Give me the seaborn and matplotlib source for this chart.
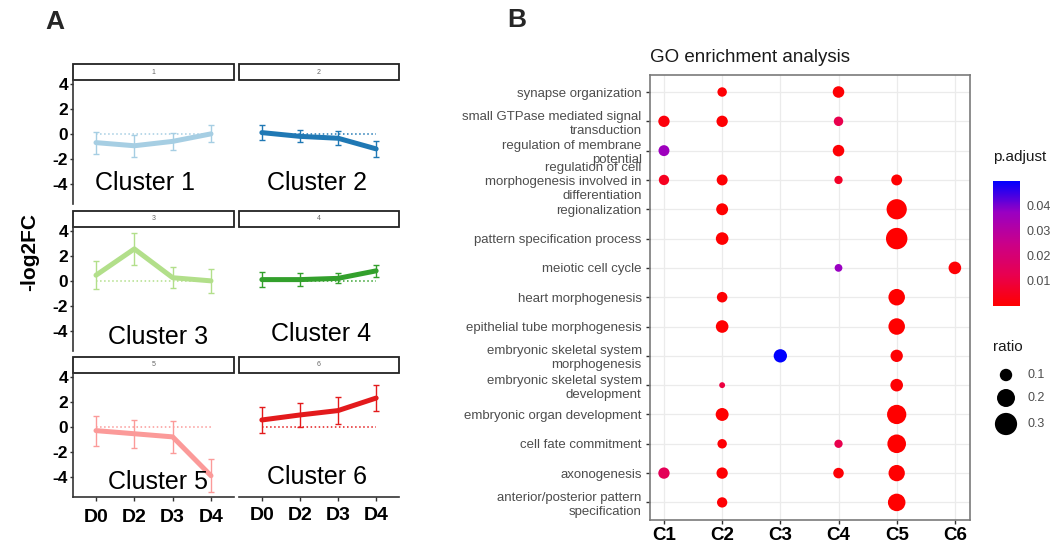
import numpy as np
import pandas as pd
import matplotlib
matplotlib.use("Agg")
import matplotlib.pyplot as plt
import seaborn as sns
from matplotlib.colors import LinearSegmentedColormap, Normalize
from matplotlib.patches import Rectangle
from matplotlib.cm import ScalarMappable

sns.set_theme(style="white")
plt.rcParams["font.family"] = ["Liberation Sans", "DejaVu Sans"]

# ---------------- Panel A: expression trends of the six clusters ----------------
days = ["D0", "D2", "D3", "D4"]
cluster_ids = ["1", "2", "3", "4", "5", "6"]
cluster_names = ["Cluster 1", "Cluster 2", "Cluster 3", "Cluster 4", "Cluster 5", "Cluster 6"]

c1_mean = [-0.70, -0.95, -0.60, 0.00]
c1_err = [0.87, 0.87, 0.70, 0.68]
c2_mean = [0.10, -0.20, -0.35, -1.20]
c2_err = [0.60, 0.47, 0.55, 0.62]
c3_mean = [0.45, 2.55, 0.25, 0.00]
c3_err = [1.10, 1.25, 0.85, 0.95]
c4_mean = [0.10, 0.10, 0.20, 0.80]
c4_err = [0.58, 0.50, 0.40, 0.50]
c5_mean = [-0.30, -0.55, -0.80, -3.90]
c5_err = [1.20, 1.10, 1.25, 1.30]
c6_mean = [0.55, 0.95, 1.30, 2.30]
c6_err = [1.05, 0.95, 1.05, 1.05]

trend_means = [c1_mean, c2_mean, c3_mean, c4_mean, c5_mean, c6_mean]
trend_errs = [c1_err, c2_err, c3_err, c4_err, c5_err, c6_err]
y_ticks_a = [-4, -2, 0, 2, 4]

# ---------------- Panel B: GO enrichment dot plot ----------------
go_clusters = ["C1", "C2", "C3", "C4", "C5", "C6"]
go_terms = [
    "synapse organization",
    "small GTPase mediated signal\ntransduction",
    "regulation of membrane\npotential",
    "regulation of cell\nmorphogenesis involved in\ndifferentiation",
    "regionalization",
    "pattern specification process",
    "meiotic cell cycle",
    "heart morphogenesis",
    "epithelial tube morphogenesis",
    "embryonic skeletal system\nmorphogenesis",
    "embryonic skeletal system\ndevelopment",
    "embryonic organ development",
    "cell fate commitment",
    "axonogenesis",
    "anterior/posterior pattern\nspecification",
]

dot_term = [0, 0,
            1, 1, 1,
            2, 2,
            3, 3, 3, 3,
            4, 4,
            5, 5,
            6, 6,
            7, 7,
            8, 8,
            9, 9,
            10, 10,
            11, 11,
            12, 12, 12,
            13, 13, 13, 13,
            14, 14]
dot_cluster = ["C2", "C4",
               "C1", "C2", "C4",
               "C1", "C4",
               "C1", "C2", "C4", "C5",
               "C2", "C5",
               "C2", "C5",
               "C4", "C6",
               "C2", "C5",
               "C2", "C5",
               "C3", "C5",
               "C2", "C5",
               "C2", "C5",
               "C2", "C4", "C5",
               "C1", "C2", "C4", "C5",
               "C2", "C5"]
dot_ratio = [0.062, 0.088,
             0.085, 0.085, 0.062,
             0.080, 0.088,
             0.072, 0.080, 0.050, 0.080,
             0.093, 0.250,
             0.103, 0.280,
             0.045, 0.103,
             0.075, 0.170,
             0.103, 0.170,
             0.114, 0.099,
             0.030, 0.103,
             0.108, 0.228,
             0.062, 0.050, 0.213,
             0.085, 0.085, 0.075, 0.166,
             0.072, 0.190]
dot_padj = [0.0008, 0.0005,
            0.0020, 0.0006, 0.0120,
            0.0360, 0.0008,
            0.0050, 0.0007, 0.0060, 0.0004,
            0.0003, 0.0001,
            0.0003, 0.0001,
            0.0370, 0.0010,
            0.0006, 0.0002,
            0.0004, 0.0002,
            0.0495, 0.0005,
            0.0100, 0.0005,
            0.0003, 0.0001,
            0.0008, 0.0120, 0.0002,
            0.0140, 0.0005, 0.0010, 0.0003,
            0.0007, 0.0002]

padj_ticks = [0.01, 0.02, 0.03, 0.04]
ratio_breaks = [0.1, 0.2, 0.3]

# ---------------- figure helpers ----------------
W, H = 1053, 543
fig = plt.figure(figsize=(W / 100, H / 100), dpi=100)
fig.patch.set_facecolor("white")


def px_axes(x0, y0, w, h):
    return fig.add_axes([x0 / W, 1 - (y0 + h) / H, w / W, h / H])


# ---------------- draw panel A ----------------
palette_a = sns.color_palette("Paired", 6)
col_left = [73, 239]
col_w = [161, 160]
row_top = [80, 227, 373]
row_h = 124
strip_h = 16
text_pos = [(0.45, 0.17), (0.49, 0.17), (0.53, 0.11),
            (0.51, 0.14), (0.53, 0.12), (0.49, 0.16)]
x_pos = np.arange(len(days))

for i in range(6):
    r, c = divmod(i, 2)
    ax = px_axes(col_left[c], row_top[r], col_w[c], row_h)
    ax.set_facecolor("white")
    color = palette_a[i]
    ax.hlines(0, x_pos[0], x_pos[-1], colors=[color], linestyles=":", lw=1.1, zorder=1)
    ax.errorbar(x_pos, trend_means[i], yerr=trend_errs[i], fmt="none",
                ecolor=color, elinewidth=1.0, capsize=2.2, capthick=1.0, zorder=2)
    sns.lineplot(x=x_pos, y=trend_means[i], color=color, lw=3.6, ax=ax, zorder=3)
    ax.set_xlim(-0.6, 3.6)
    ax.set_ylim(-5.6, 4.3)
    ax.set_xlabel("")
    ax.set_ylabel("")
    for s in ["top", "right"]:
        ax.spines[s].set_visible(False)
    ax.spines["left"].set_color("#333333")
    ax.spines["bottom"].set_color("#333333")
    ax.spines["left"].set_linewidth(1.2)
    ax.spines["bottom"].set_linewidth(1.2)

    if c == 0:
        ax.set_yticks(y_ticks_a)
        ax.set_yticklabels([str(v) for v in y_ticks_a], fontsize=12.5,
                           fontweight="bold", color="black")
        ax.tick_params(axis="y", length=2, width=1, color="#333333", pad=1.5, left=True)
    else:
        ax.spines["left"].set_visible(False)
        ax.set_yticks([])

    if r == 2:
        ax.set_xticks(x_pos)
        ax.set_xticklabels(days, fontsize=14, fontweight="bold", color="black")
        ax.tick_params(axis="x", length=3, width=1, color="#333333",
                       pad=6 if c == 0 else 4, bottom=True)
    else:
        ax.spines["bottom"].set_visible(False)
        ax.set_xticks([])

    # facet strip
    ax.add_patch(Rectangle((0, 1.0), 1, strip_h / row_h, transform=ax.transAxes,
                           facecolor="white", edgecolor="#222222", lw=1.3, clip_on=False))
    ax.text(0.5, 1 + strip_h / row_h / 2, cluster_ids[i], transform=ax.transAxes,
            ha="center", va="center", fontsize=5, color="#666666")

    tx, ty = text_pos[i]
    ax.text(tx, ty, cluster_names[i], transform=ax.transAxes, ha="center", va="center",
            fontsize=18, color="black", zorder=5)

fig.text(30 / W, 1 - 252 / H, "-log2FC", rotation=90, ha="center", va="center",
         fontsize=15, fontweight="bold", color="black")
fig.text(55 / W, 1 - 22 / H, "A", ha="center", va="center", fontsize=19, fontweight="bold")
fig.text(517 / W, 1 - 20 / H, "B", ha="center", va="center", fontsize=19, fontweight="bold")

# ---------------- draw panel B ----------------
go_df = pd.DataFrame({
    "term": [go_terms[t] for t in dot_term],
    "cluster": dot_cluster,
    "ratio": dot_ratio,
    "p.adjust": dot_padj,
})
go_df["term_pos"] = [go_terms.index(t) for t in go_df["term"]]
go_df["cluster_pos"] = [go_clusters.index(cl) for cl in go_df["cluster"]]

go_cmap = LinearSegmentedColormap.from_list(
    "padj", ["#FF0000", "#E80050", "#CA0089", "#9A00C2", "#0000FF"])
padj_norm = Normalize(vmin=min(dot_padj), vmax=max(dot_padj))
size_range = (18, 300)
size_norm = (0.03, 0.35)

axB = px_axes(650, 75, 320, 445)
axB.set_facecolor("white")
sns.scatterplot(data=go_df, x="cluster_pos", y="term_pos", hue="p.adjust", size="ratio",
                palette=go_cmap, hue_norm=padj_norm, sizes=size_range, size_norm=size_norm,
                linewidth=0, legend=False, ax=axB, zorder=3)
axB.set_xlim(-0.24, len(go_clusters) - 1 + 0.26)
axB.set_ylim(len(go_terms) - 1 + 0.6, -0.58)
axB.set_xticks(range(len(go_clusters)))
axB.set_xticklabels(go_clusters, fontsize=13.5, fontweight="bold", color="black")
axB.set_yticks(range(len(go_terms)))
axB.set_yticklabels(go_terms, fontsize=9.5, color="#4D4D4D", linespacing=1.22)
for lab in axB.get_yticklabels():
    lab.set_horizontalalignment("right")
    lab.set_multialignment("right")
axB.set_xlabel("")
axB.set_ylabel("")
axB.grid(True, color="#EBEBEB", lw=0.9)
axB.set_axisbelow(True)
for s in axB.spines.values():
    s.set_color("#7A7A7A")
    s.set_linewidth(1.2)
axB.tick_params(axis="both", length=3, width=1, color="#333333", left=True, bottom=True)
axB.tick_params(axis="y", pad=3)
axB.tick_params(axis="x", pad=2)

fig.text(650 / W, 1 - 57 / H, "GO enrichment analysis", ha="left", va="center",
         fontsize=13.5, color="#1A1A1A")

# colour bar for p.adjust
cax = px_axes(993, 181, 27, 125)
cb = fig.colorbar(ScalarMappable(norm=padj_norm, cmap=go_cmap), cax=cax)
cb.set_ticks(padj_ticks)
cb.set_ticklabels([f"{v:.2f}" for v in padj_ticks])
cb.outline.set_visible(False)
cb.ax.minorticks_off()
cb.ax.tick_params(which="both", direction="in", color="white", length=5, width=1,
                  left=True, right=True, labelsize=9, labelcolor="#4D4D4D", pad=5)
fig.text(993 / W, 1 - 157 / H, "p.adjust", ha="left", va="center", fontsize=11, color="#1A1A1A")

# size legend for ratio
fig.text(993 / W, 1 - 347 / H, "ratio", ha="left", va="center", fontsize=11, color="#1A1A1A")
lax = fig.add_axes([0, 0, 1, 1])
lax.set_xlim(0, W)
lax.set_ylim(H, 0)
lax.patch.set_alpha(0)
lax.axis("off")
legend_y = [375, 398, 424]
sns.scatterplot(x=[1006] * len(ratio_breaks), y=legend_y, size=ratio_breaks, sizes=size_range,
                size_norm=size_norm, color="black", linewidth=0, legend=False, ax=lax)
for yv, rv in zip(legend_y, ratio_breaks):
    lax.text(1027, yv, f"{rv:.1f}", ha="left", va="center", fontsize=9, color="#4D4D4D")

fig.savefig("out.png", dpi=100, facecolor="white")
